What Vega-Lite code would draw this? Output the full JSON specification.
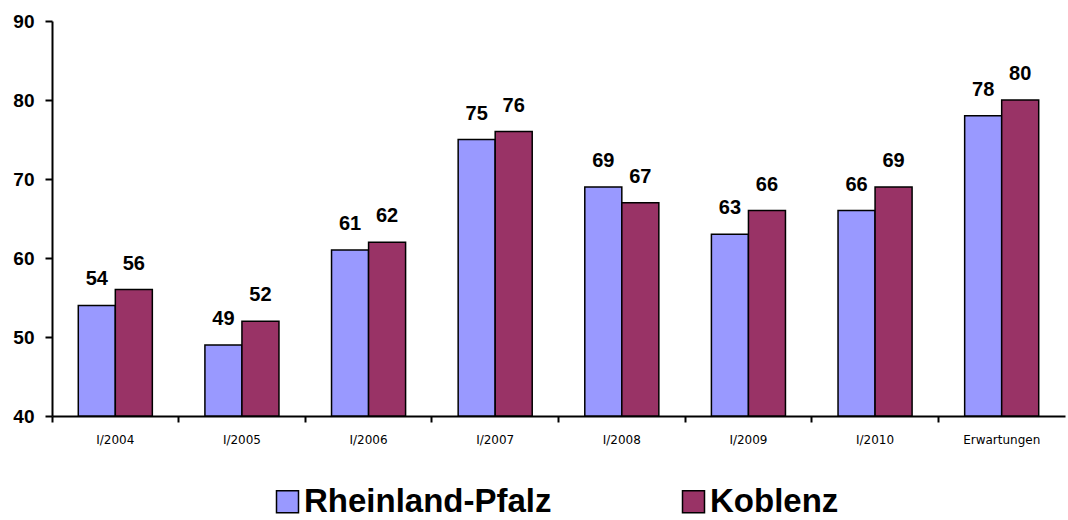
{
  "$schema": "https://vega.github.io/schema/vega-lite/v6.json",
  "width": 1013,
  "height": 395,
  "autosize": {"type": "none"},
  "padding": {"left": 52, "top": 21, "right": 3, "bottom": 104},
  "background": "white",
  "data": {
    "values": [
      {"period": "I/2004", "region": "Rheinland-Pfalz", "value": 54},
      {"period": "I/2004", "region": "Koblenz", "value": 56},
      {"period": "I/2005", "region": "Rheinland-Pfalz", "value": 49},
      {"period": "I/2005", "region": "Koblenz", "value": 52},
      {"period": "I/2006", "region": "Rheinland-Pfalz", "value": 61},
      {"period": "I/2006", "region": "Koblenz", "value": 62},
      {"period": "I/2007", "region": "Rheinland-Pfalz", "value": 75},
      {"period": "I/2007", "region": "Koblenz", "value": 76},
      {"period": "I/2008", "region": "Rheinland-Pfalz", "value": 69},
      {"period": "I/2008", "region": "Koblenz", "value": 67},
      {"period": "I/2009", "region": "Rheinland-Pfalz", "value": 63},
      {"period": "I/2009", "region": "Koblenz", "value": 66},
      {"period": "I/2010", "region": "Rheinland-Pfalz", "value": 66},
      {"period": "I/2010", "region": "Koblenz", "value": 69},
      {"period": "Erwartungen", "region": "Rheinland-Pfalz", "value": 78},
      {"period": "Erwartungen", "region": "Koblenz", "value": 80}
    ]
  },
  "encoding": {
    "x": {
      "field": "period",
      "type": "nominal",
      "sort": ["I/2004", "I/2005", "I/2006", "I/2007", "I/2008", "I/2009", "I/2010", "Erwartungen"],
      "scale": {"paddingInner": 0, "paddingOuter": 0},
      "axis": {
        "title": null,
        "labelAngle": 0,
        "labelFont": "DejaVu Sans",
        "labelFontSize": 12,
        "labelColor": "black",
        "labelPadding": 12,
        "bandPosition": 0,
        "domainColor": "black",
        "domainWidth": 2,
        "tickColor": "black",
        "tickWidth": 2,
        "tickSize": 6,
        "grid": false
      }
    },
    "xOffset": {
      "field": "region",
      "sort": ["Rheinland-Pfalz", "Koblenz"],
      "scale": {"paddingInner": 0, "paddingOuter": 0.71}
    },
    "y": {
      "field": "value",
      "type": "quantitative",
      "scale": {"domain": [40, 90], "nice": false, "zero": false},
      "axis": {
        "title": null,
        "values": [40, 50, 60, 70, 80, 90],
        "labelFont": "Liberation Sans",
        "labelFontWeight": "bold",
        "labelFontSize": 19,
        "labelColor": "black",
        "labelPadding": 11,
        "domainColor": "black",
        "domainWidth": 2,
        "tickColor": "black",
        "tickWidth": 2,
        "tickSize": 7,
        "grid": false
      }
    }
  },
  "layer": [
    {
      "mark": {"type": "bar", "stroke": "black", "strokeWidth": 1.5},
      "encoding": {
        "y2": {"datum": 40},
        "color": {
          "field": "region",
          "type": "nominal",
          "sort": ["Rheinland-Pfalz", "Koblenz"],
          "scale": {"domain": ["Rheinland-Pfalz", "Koblenz"], "range": ["#9999FF", "#993366"]},
          "legend": {
            "title": null,
            "orient": "none",
            "legendX": 219,
            "legendY": 464,
            "padding": 0,
            "direction": "horizontal",
            "symbolType": "square",
            "symbolSize": 484,
            "symbolStrokeColor": "black",
            "symbolStrokeWidth": 1.5,
            "symbolOpacity": 1,
            "labelFont": "Liberation Sans",
            "labelFontWeight": "bold",
            "labelFontSize": 33,
            "labelColor": "black",
            "labelOffset": 0,
            "labelLimit": 400,
            "columnPadding": 125
          }
        }
      }
    },
    {
      "mark": {
        "type": "text",
        "baseline": "alphabetic",
        "dy": -20,
        "font": "Liberation Sans",
        "fontWeight": "bold",
        "fontSize": 20,
        "color": "black"
      },
      "encoding": {
        "text": {"field": "value", "type": "quantitative"}
      }
    }
  ],
  "config": {"view": {"stroke": null}}
}
